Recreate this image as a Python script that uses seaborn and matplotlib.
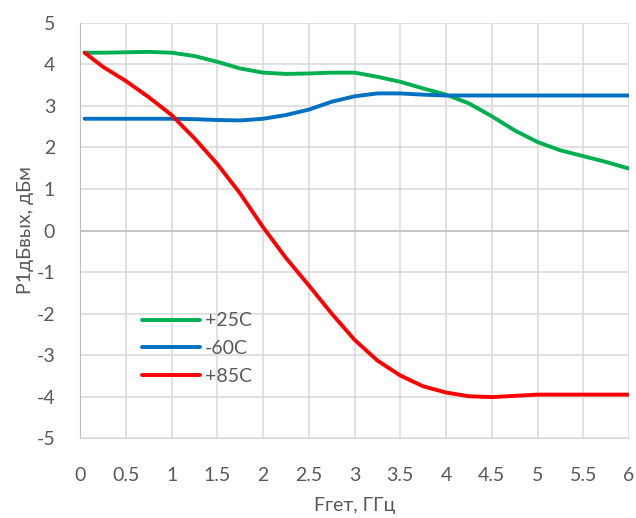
import pandas as pd
import matplotlib
matplotlib.use("Agg")
import matplotlib.pyplot as plt
import seaborn as sns

# Frequency grid (GHz), first point at 50 MHz
freq = [0.05, 0.25, 0.5, 0.75, 1.0, 1.25, 1.5, 1.75, 2.0, 2.25, 2.5, 2.75, 3.0,
        3.25, 3.5, 3.75, 4.0, 4.25, 4.5, 4.75, 5.0, 5.25, 5.5, 5.75, 6.0]

# P1dB output, dBm
p_25 = [4.28, 4.28, 4.29, 4.30, 4.28, 4.20, 4.06, 3.90, 3.80, 3.77, 3.78, 3.80, 3.80,
        3.70, 3.58, 3.42, 3.27, 3.06, 2.75, 2.41, 2.13, 1.93, 1.79, 1.65, 1.49]
p_m60 = [2.69, 2.69, 2.69, 2.69, 2.69, 2.68, 2.66, 2.65, 2.69, 2.78, 2.91, 3.10, 3.23,
         3.30, 3.30, 3.27, 3.25, 3.25, 3.25, 3.25, 3.25, 3.25, 3.25, 3.25, 3.25]
p_85 = [4.28, 3.94, 3.60, 3.21, 2.78, 2.22, 1.60, 0.89, 0.08, -0.66, -1.32, -2.00, -2.63,
        -3.13, -3.49, -3.75, -3.90, -3.99, -4.01, -3.98, -3.95, -3.95, -3.95, -3.95, -3.95]

series = ["+25C", "-60C", "+85C"]
colors = ["#00B050", "#0070C0", "#FF0000"]

df = pd.concat([
    pd.DataFrame({"freq": freq, "p1db": p_25, "temp": series[0]}),
    pd.DataFrame({"freq": freq, "p1db": p_m60, "temp": series[1]}),
    pd.DataFrame({"freq": freq, "p1db": p_85, "temp": series[2]}),
], ignore_index=True)

sns.set_style("white")
plt.rcParams["font.family"] = ["Lato", "DejaVu Sans"]
plt.rcParams["axes.unicode_minus"] = False
text_color = "#595959"
fs = 14

fig = plt.figure(figsize=(6.36, 5.18), dpi=100)
ax = fig.add_axes([0.126, 0.154, 0.863, 0.802])

sns.lineplot(data=df, x="freq", y="p1db", hue="temp", hue_order=series,
             palette=colors, linewidth=2.8, ax=ax, sort=False)

ax.set_xlim(0, 6)
ax.set_ylim(-5, 5)
ax.set_xticks([i * 0.5 for i in range(13)])
ax.set_xticklabels(["0", "0.5", "1", "1.5", "2", "2.5", "3", "3.5", "4", "4.5", "5", "5.5", "6"])
ax.set_yticks(range(-5, 6))
ax.grid(True, color="#D9D9D9", linewidth=1.1)
ax.axhline(0, color="#BFBFBF", linewidth=1.1, zorder=1)
for side in ["top", "right"]:
    ax.spines[side].set_visible(False)
ax.spines["left"].set_color("#BFBFBF")
ax.spines["bottom"].set_color("#D9D9D9")
ax.tick_params(length=0, labelsize=fs, labelcolor=text_color)
ax.tick_params(axis="x", pad=21)
ax.tick_params(axis="y", pad=18)

ax.set_xlabel("Fгет, ГГц", fontsize=fs, color=text_color, labelpad=9)
ax.set_ylabel("P1дБвых, дБм", fontsize=fs, color=text_color, labelpad=2)

ax.legend(loc="upper left", bbox_to_anchor=(0.08, 0.345), frameon=False,
          fontsize=fs, handlelength=3.0, handletextpad=0.25, labelspacing=0.55,
          labelcolor=text_color)

fig.savefig("out.png", dpi=100)
